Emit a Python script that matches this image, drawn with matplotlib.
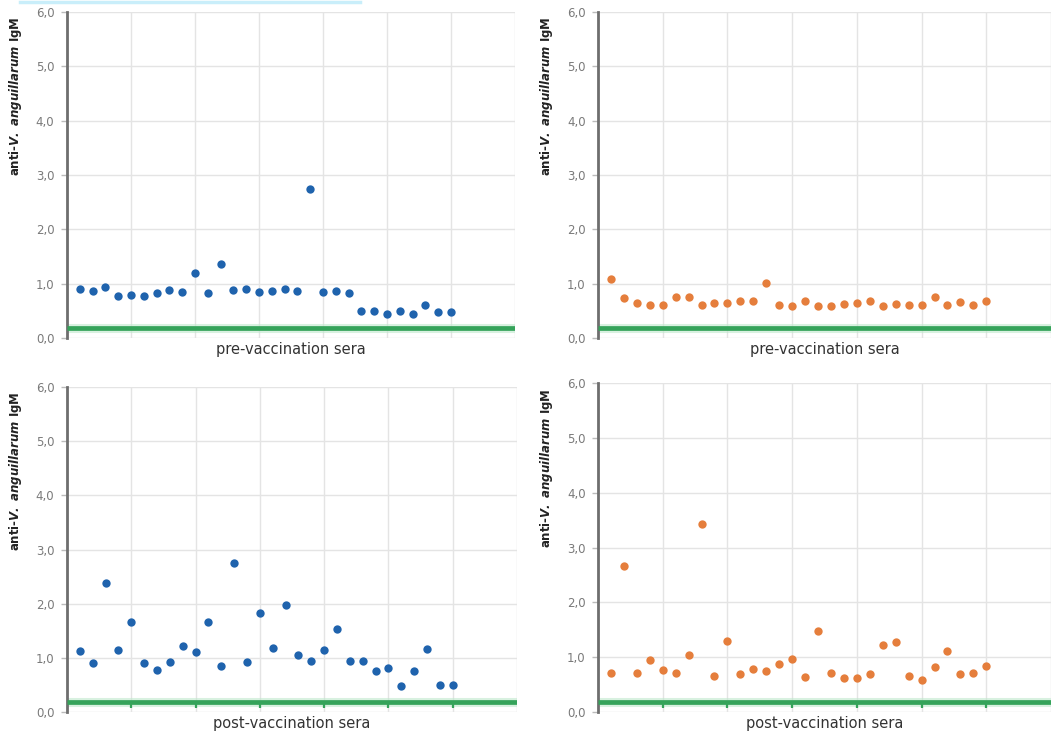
"""Anti-V. anguillarum IgM per serum sample, pre and post vaccination."""
import matplotlib
matplotlib.use("Agg")
import matplotlib.pyplot as plt
from matplotlib.lines import Line2D
from matplotlib.ticker import FuncFormatter

# sample index 1..30 in each group
samples = list(range(1, 31))

pre_blue = [0.91, 0.87, 0.93, 0.78, 0.79, 0.77, 0.82, 0.89, 0.84, 1.20,
            0.82, 1.36, 0.89, 0.90, 0.84, 0.87, 0.90, 0.87, 2.75, 0.84,
            0.87, 0.82, 0.50, 0.50, 0.45, 0.49, 0.45, 0.60, 0.48, 0.48]
pre_orange = [1.08, 0.73, 0.65, 0.61, 0.61, 0.76, 0.76, 0.60, 0.64, 0.65,
              0.69, 0.69, 1.01, 0.60, 0.59, 0.68, 0.59, 0.59, 0.63, 0.65,
              0.68, 0.59, 0.63, 0.60, 0.60, 0.76, 0.61, 0.66, 0.60, 0.69]
post_blue = [1.12, 0.90, 2.38, 1.14, 1.67, 0.91, 0.78, 0.92, 1.22, 1.10,
             1.67, 0.85, 2.76, 0.92, 1.83, 1.19, 1.98, 1.05, 0.94, 1.15,
             1.54, 0.94, 0.94, 0.76, 0.82, 0.48, 0.75, 1.17, 0.50, 0.50]
post_orange = [0.72, 2.67, 0.71, 0.95, 0.76, 0.72, 1.04, 3.42, 0.65, 1.30,
               0.69, 0.78, 0.75, 0.88, 0.96, 0.64, 1.48, 0.72, 0.62, 0.62,
               0.69, 1.23, 1.27, 0.66, 0.58, 0.82, 1.11, 0.69, 0.71, 0.83]

cutoff = 0.18
x_grid = [5, 10, 15, 20, 25, 30, 35]
y_ticks = [0, 1, 2, 3, 4, 5, 6]

BLUE = "#1f63ad"
ORANGE = "#e57e3c"
GREEN = "#35a35a"
YLABEL = r"anti-$\mathbfit{V.\ anguillarum}$ IgM"

W, H = 1051, 734
fig = plt.figure(figsize=(W / 100, H / 100), dpi=100)


def px_axes(l, t, r, b):
    return fig.add_axes([l / W, 1 - b / H, (r - l) / W, (b - t) / H])


def style(ax, values, color, xlabel, bottom_ticks=False):
    ax.scatter(samples, values, s=36, color=color, zorder=4, linewidths=0)
    ax.axhline(cutoff, color=GREEN, lw=3.4, zorder=3, solid_capstyle="butt")
    ax.axhline(cutoff, color="#bfe8cc", lw=6.5, zorder=2, alpha=0.6)
    if bottom_ticks:
        ax.vlines(x_grid[:-1], cutoff - 0.1, cutoff, color=GREEN, lw=1.6, zorder=3)
    ax.set_xlim(0, 34.8)
    ax.set_ylim(0, 6.0)
    ax.set_xticks(x_grid)
    ax.set_yticks(y_ticks)
    ax.yaxis.set_major_formatter(FuncFormatter(lambda v, _: f"{v:.1f}".replace(".", ",")))
    ax.grid(True, color="#e4e4e4", lw=1.0)
    ax.set_axisbelow(True)
    ax.tick_params(axis="x", length=0, labelbottom=False)
    ax.tick_params(axis="y", length=4, color="#bbbbbb", width=1, pad=5,
                   labelsize=8.5, labelcolor="#7a7a7a")
    for side in ("top", "right", "bottom"):
        ax.spines[side].set_visible(False)
    ax.spines["left"].set_color("#6e6e6e")
    ax.spines["left"].set_linewidth(2)
    ax.set_xlabel(xlabel, fontsize=10.5, color="#333333", labelpad=3)
    ax.set_ylabel(YLABEL, fontsize=8.5, fontweight="bold", color="#222222")
    ax.yaxis.set_label_coords(-0.095, 0.74)


ax1 = px_axes(67, 12, 515, 338)
style(ax1, pre_blue, BLUE, "pre-vaccination sera")
ax2 = px_axes(598, 12, 1051, 338)
style(ax2, pre_orange, ORANGE, "pre-vaccination sera")
ax3 = px_axes(67, 387, 517, 712)
style(ax3, post_blue, BLUE, "post-vaccination sera", bottom_ticks=True)
ax4 = px_axes(598, 383, 1051, 712)
style(ax4, post_orange, ORANGE, "post-vaccination sera", bottom_ticks=True)

# faint cyan strip along the top edge
fig.add_artist(Line2D([20 / W, 360 / W], [1 - 1.5 / H, 1 - 1.5 / H],
                      color="#c9eefa", lw=2.5, transform=fig.transFigure))

fig.savefig("out.png", dpi=100)
